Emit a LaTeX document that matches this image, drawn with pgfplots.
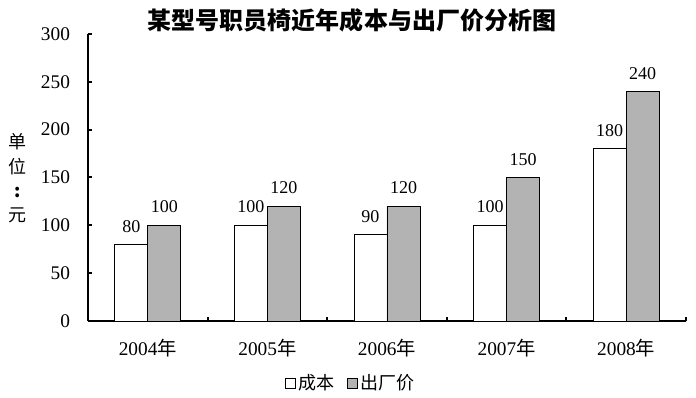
\documentclass[border=0pt]{standalone}
\usepackage{fontspec}
\setmainfont{Liberation Serif}
\newfontfamily\cjk{Noto Sans CJK SC}
\usepackage{pgfplots}
\pgfplotsset{compat=1.18}
\definecolor{bargray}{RGB}{179,179,179}
\begin{document}
\begin{tikzpicture}
\path[use as bounding box] (-66pt,-57.75pt) rectangle (456pt,240.75pt);
\begin{axis}[at={(0,0)}, anchor=south west, scale only axis,
  width=448.5pt, height=215.25pt,
  ybar=0pt, bar width=0.276,
  xmin=-0.5, xmax=4.5, ymin=0, ymax=300,
  ytick={0,50,...,300},
  xtick={0,1,2,3,4},
  xticklabels={2004{\cjk 年},2005{\cjk 年},2006{\cjk 年},2007{\cjk 年},2008{\cjk 年}},
  minor xtick={-0.5,0.5,1.5,2.5,3.5,4.5},
  axis x line*=bottom, axis y line*=left,
  axis line style={line width=1.5pt,-},
  tick align=inside,
  major tick length=3pt, minor tick length=3pt,
  major x tick style={draw=none},
  tick style={line width=1.5pt,black},
  minor x tick style={line width=1.5pt,black},
  /pgf/number format/assume math mode=true,
  tick label style={font=\fontsize{14.5}{17}\selectfont},
  xticklabel style={yshift=-10pt},
  yticklabel style={xshift=-10pt},
  nodes near coords,
  every node near coord/.append style={font=\fontsize{13.5}{16}\selectfont, yshift=5.5pt, black},
  legend columns=2,
  legend style={at={(0.44,0)}, anchor=center, yshift=-46.5pt, draw=none, fill=none,
    font=\fontsize{13.5}{16}\selectfont,
    /tikz/every even column/.append style={column sep=8pt}},
  legend image code/.code={\draw[#1, line width=0.6pt] (0pt,-3.75pt) rectangle (7.5pt,3.75pt);},
]
\addplot[draw=black, fill=white, line width=0.6pt] coordinates {(0,80) (1,100) (2,90) (3,100) (4,180)};
\addplot[draw=black, fill=bargray, line width=0.6pt] coordinates {(0,100) (1,120) (2,120) (3,150) (4,240)};
\legend{{\cjk 成本},{\cjk 出厂价}}
\end{axis}
\node at (198pt,225.75pt) {\cjk\bfseries\fontsize{18}{20}\selectfont 某型号职员椅近年成本与出厂价分析图};
\node[align=center, font=\cjk\fontsize{13.5}{18.2}\selectfont] at (-52.5pt,107pt) {单\\位\\\textbf{:}\\元};
\end{tikzpicture}
\end{document}
